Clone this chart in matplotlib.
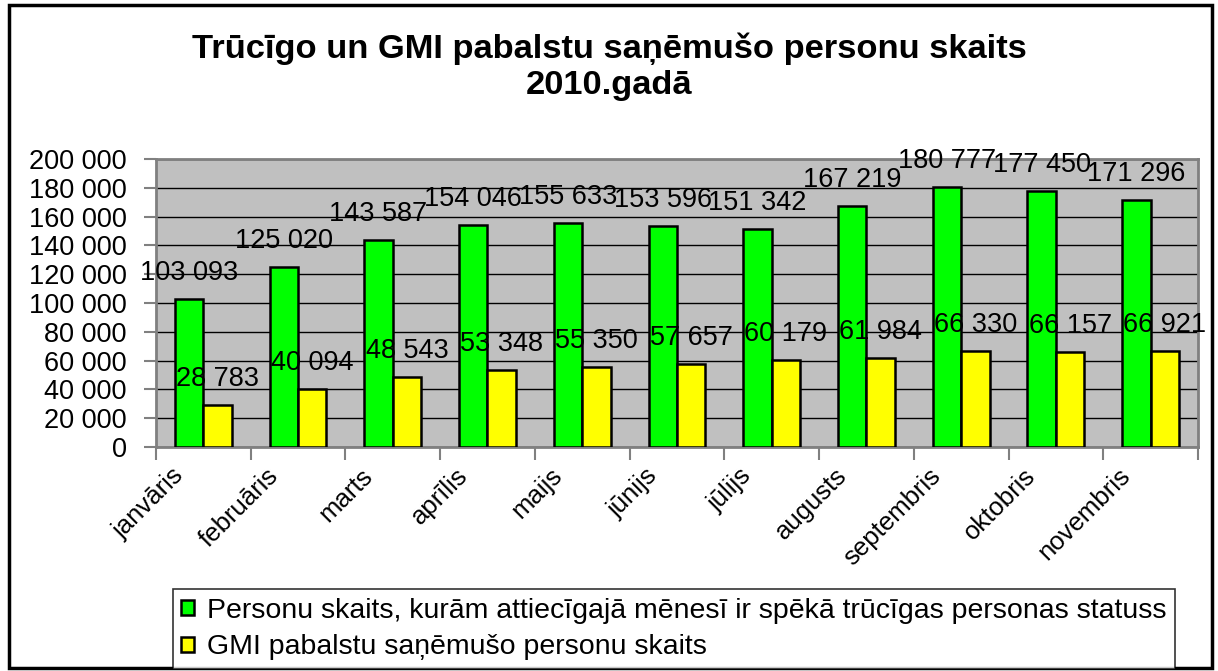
import numpy as np
import matplotlib.pyplot as plt
from matplotlib.patches import Rectangle

plt.rcParams['font.family'] = ['Liberation Sans', 'DejaVu Sans']

# data
months = ["janvāris", "februāris", "marts", "aprīlis", "maijs", "jūnijs",
          "jūlijs", "augusts", "septembris", "oktobris", "novembris"]
poor_status = [103093, 125020, 143587, 154046, 155633, 153596,
               151342, 167219, 180777, 177450, 171296]
gmi_receivers = [28783, 40094, 48543, 53348, 55350, 57657,
                 60179, 61984, 66330, 66157, 66921]
series_names = ["Personu skaits, kurām attiecīgajā mēnesī ir spēkā trūcīgas personas statuss",
                "GMI pabalstu saņēmušo personu skaits"]
title = "Trūcīgo un GMI pabalstu saņēmušo personu skaits\n2010.gadā"


def fmt(v):
    return f"{v:,}".replace(",", " ")


fig = plt.figure(figsize=(12.18, 6.71), dpi=100)
ax = fig.add_axes([0.128, 0.334, 0.8556, 0.429])

x = np.arange(len(months))
w = 0.3
b1 = ax.bar(x - w / 2, poor_status, w, color="#00FF00", edgecolor="black", linewidth=1.8, zorder=3)
b2 = ax.bar(x + w / 2, gmi_receivers, w, color="#FFFF00", edgecolor="black", linewidth=1.8, zorder=3)

for bars, vals in ((b1, poor_status), (b2, gmi_receivers)):
    for r, v in zip(bars, vals):
        ax.annotate(fmt(v), (r.get_x() + r.get_width() / 2, v), xytext=(0, 19),
                    textcoords="offset pixels", ha="center", va="baseline",
                    fontsize=19.5, zorder=5)

ax.set_facecolor("#C0C0C0")
ax.set_xlim(-0.5, len(months) - 0.5)
ax.set_ylim(0, 200000)
ax.set_yticks(np.arange(0, 200001, 20000))
ax.set_yticklabels([fmt(v) for v in range(0, 200001, 20000)], fontsize=19.5)
ax.yaxis.grid(True, color="black", linewidth=1, zorder=1)
ax.set_axisbelow(True)

# category boundaries carry the tick marks, labels sit a bit left of centre
ax.set_xticks(np.arange(-0.5, len(months), 1.0))
ax.set_xticklabels([])
ax.set_xticks(x - 0.34, minor=True)
ax.set_xticklabels(months, minor=True, rotation=45, ha="right", va="top",
                   rotation_mode="anchor", fontsize=18.5)
ax.tick_params(axis="x", which="minor", length=0, pad=12)
ax.tick_params(axis="x", which="major", length=9, color="#808080", width=1.5)
ax.tick_params(axis="y", length=9, color="#808080", width=1.5, pad=12)
for s in ax.spines.values():
    s.set_color("#808080")
    s.set_linewidth(2)

fig.text(0.5, 0.901, title, ha="center", va="center", fontsize=24.8,
         fontweight="bold", linespacing=1.2)

leg = fig.legend([b1, b2], series_names, loc="lower left",
                 bbox_to_anchor=(0.142, 0.003), fontsize=20.5, frameon=True,
                 fancybox=False, edgecolor="black", handlelength=0.45,
                 handleheight=0.45, handletextpad=0.45, borderpad=0.3,
                 labelspacing=0.38, borderaxespad=0)
leg.get_frame().set_linewidth(1.2)

fig.patches.append(Rectangle((0.007, 0.004), 0.988, 0.988, transform=fig.transFigure,
                             fill=False, edgecolor="black", linewidth=2.5))

fig.savefig("out.png", dpi=100)
